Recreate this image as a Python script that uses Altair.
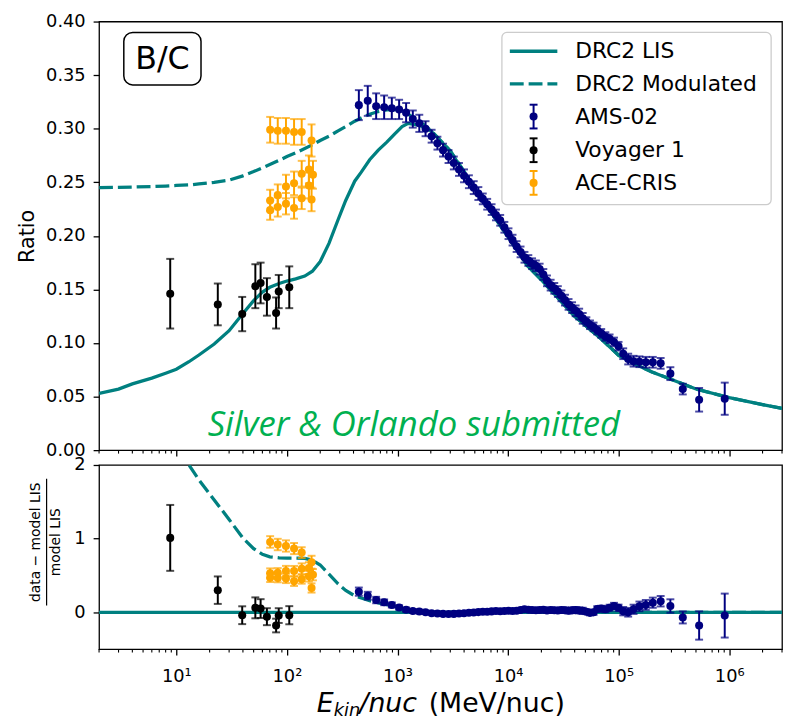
import altair as alt
import pandas as pd

# ---------------- data ----------------
model_E = [2, 3, 4, 6, 8, 10, 13, 16, 22, 30, 40, 50, 60, 70, 85, 100, 120, 145, 170, 200,
           240, 290, 340, 410, 470, 560, 670, 800, 940, 1100, 1250, 1600, 2000, 3000, 5000,
           7000, 10000, 15000, 20000, 30000, 40000, 70000, 100000, 150000, 200000, 300000,
           500000, 1000000, 2000000, 3000000]
lis_ratio = [0.053, 0.057, 0.0618, 0.0672, 0.0718, 0.0755, 0.0825, 0.0888, 0.0990, 0.1115,
             0.1275, 0.1395, 0.1475, 0.1520, 0.1555, 0.1578, 0.1598, 0.1625, 0.1670, 0.1760,
             0.1930, 0.2150, 0.2330, 0.2510, 0.2595, 0.2710, 0.2800, 0.2875, 0.2950, 0.3020,
             0.3050, 0.3030, 0.2980, 0.2790, 0.2445, 0.2220, 0.1990, 0.1720, 0.1590, 0.1390,
             0.1250, 0.1035, 0.0885, 0.0790, 0.0730, 0.0660, 0.0570, 0.0490, 0.0425, 0.0390]
mod_ratio = [0.2450, 0.2452, 0.2455, 0.2460, 0.2465, 0.2470, 0.2475, 0.2485, 0.2500, 0.2520,
             0.2560, 0.2600, 0.2635, 0.2665, 0.2705, 0.2740, 0.2775, 0.2815, 0.2850, 0.2890,
             0.2930, 0.2980, 0.3020, 0.3070, 0.3100, 0.3135, 0.3160, 0.3175, 0.3180, 0.3165,
             0.3135, 0.3065, 0.2985, 0.2795, 0.2450, 0.2223, 0.1992, 0.1721, 0.1590, 0.1390,
             0.1250, 0.1035, 0.0885, 0.0790, 0.0730, 0.0660, 0.0570, 0.0490, 0.0425, 0.0390]

ams_E = [447, 538, 641, 757, 888, 1034, 1196, 1375, 1574, 1793, 2034, 2296, 2581, 2893, 3231,
         3597, 3994, 4421, 4888, 5383, 5903, 6472, 7091, 7762, 8482, 9252, 10080, 10970, 11940,
         12960, 14060, 15240, 16480, 17830, 19280, 20830, 22470, 24250, 26150, 28170, 30340,
         32690, 35210, 37900, 40800, 43930, 47300, 51040, 55050, 59290, 64030, 69520, 75770,
         82750, 90730, 99700, 109900, 121900, 136300, 154000, 175900, 203500, 239700, 293400,
         380000, 534000, 910000]
ams_ratio = [0.322, 0.326, 0.321, 0.320, 0.319, 0.318, 0.315, 0.309, 0.305, 0.300, 0.293,
             0.2865, 0.280, 0.274, 0.268, 0.262, 0.256, 0.2505, 0.245, 0.2395, 0.2345, 0.2295,
             0.2245, 0.2195, 0.2145, 0.208, 0.202, 0.196, 0.190, 0.185, 0.180, 0.177, 0.174,
             0.172, 0.169, 0.164, 0.158, 0.154, 0.151, 0.148, 0.144, 0.140, 0.136, 0.133, 0.130,
             0.127, 0.123, 0.120, 0.117, 0.115, 0.112, 0.109, 0.106, 0.104, 0.101, 0.097, 0.090,
             0.085, 0.083, 0.0825, 0.082, 0.082, 0.081, 0.0714, 0.057, 0.047, 0.048]
ams_err = [0.014, 0.014, 0.012, 0.011, 0.010, 0.009, 0.009, 0.008, 0.008, 0.007, 0.006, 0.006,
           0.006, 0.006, 0.006, 0.006, 0.006, 0.006, 0.006, 0.006, 0.005, 0.005, 0.005, 0.005,
           0.005, 0.005, 0.005, 0.005, 0.005, 0.005, 0.005, 0.005, 0.005, 0.005, 0.005, 0.005,
           0.005, 0.005, 0.005, 0.005, 0.005, 0.005, 0.005, 0.005, 0.005, 0.005, 0.005, 0.004,
           0.004, 0.004, 0.004, 0.004, 0.004, 0.004, 0.004, 0.004, 0.005, 0.005, 0.005, 0.005,
           0.005, 0.005, 0.005, 0.006, 0.005, 0.011, 0.015]
ams_resid = [0.28, 0.225, 0.166, 0.135, 0.099, 0.065, 0.035, 0.018, 0.009, 0.0, -0.012, -0.018,
             -0.022, -0.024, -0.022, -0.018, -0.012, -0.006, -0.002, 0.002, 0.006, 0.008, 0.012,
             0.016, 0.015, 0.018, 0.02, 0.018, 0.022, 0.03, 0.04, 0.035, 0.03, 0.028, 0.03,
             0.035, 0.025, 0.03, 0.028, 0.024, 0.03, 0.028, 0.022, 0.026, 0.03, 0.025, 0.02,
             0.008, -0.008, 0.0, 0.045, 0.05, 0.04, 0.06, 0.085, 0.06, 0.015, 0.0, 0.04, 0.08,
             0.10, 0.13, 0.15, 0.085, -0.07, -0.18, -0.045]

voy_E = [8.8, 23.7, 39.4, 51.8, 57.8, 65.9, 79.8, 84.3, 105]
voy_ratio = [0.146, 0.136, 0.127, 0.153, 0.156, 0.143, 0.128, 0.148, 0.152]
voy_err = [0.0325, 0.0195, 0.016, 0.0205, 0.019, 0.0175, 0.0145, 0.0155, 0.0195]
voy_resid = [1.01, 0.30, -0.04, 0.06, 0.05, -0.06, -0.18, -0.045, -0.04]

ace_E = [70.5, 82.6, 98, 116, 136, 167, 70.5, 70.5, 82.6, 82.6, 98, 98, 116, 116, 136, 136,
         158, 158, 167, 172]
ace_ratio = [0.299, 0.298, 0.298, 0.297, 0.297, 0.289, 0.233, 0.224, 0.238, 0.227, 0.246,
             0.230, 0.249, 0.226, 0.258, 0.235, 0.262, 0.247, 0.234, 0.257]
ace_err = [0.012, 0.012, 0.012, 0.012, 0.012, 0.015, 0.010, 0.009, 0.010, 0.009, 0.011, 0.010,
           0.011, 0.010, 0.012, 0.010, 0.013, 0.012, 0.011, 0.013]
ace_resid = [0.955, 0.92, 0.90, 0.865, 0.81, 0.68, 0.53, 0.47, 0.535, 0.465, 0.56, 0.46, 0.56,
             0.42, 0.59, 0.45, 0.60, 0.49, 0.33, 0.51]

x_major = [10, 100, 1000, 10000, 100000, 1000000]
x_major_labels = ["10¹", "10²", "10³", "10⁴", "10⁵", "10⁶"]
x_minor = [m * 10 ** k for k in range(0, 7) for m in range(2, 10) if 2 <= m * 10 ** k <= 3e6]
top_y_ticks = [0.0, 0.05, 0.10, 0.15, 0.20, 0.25, 0.30, 0.35, 0.40]
bot_y_ticks = [0, 1, 2]
legend_labels = ["DRC2 LIS", "DRC2 Modulated", "AMS-02", "Voyager 1", "ACE-CRIS"]

# ---------------- style ----------------
TEAL = "#008080"
NAVY = "#000080"
ORANGE = "#FFA500"
GREEN = "#00B050"
FONT = "DejaVu Sans"
W, H1, H2 = 690, 433, 186
DASH = [14, 5]
LW = 3.3

xscale = alt.Scale(type="log", domain=[2, 3e6], nice=False)
yscale_top = alt.Scale(domain=[0, 0.4], nice=False, zero=False)
yscale_bot = alt.Scale(domain=[-0.5, 2], nice=False, zero=False)

label_expr = "".join(f"datum.value == {v} ? '{l}' : " for v, l in zip(x_major, x_major_labels)) + "''"

common_axis = dict(tickSize=6, tickWidth=1.3, tickColor="black", domain=False, grid=False,
                   labelFont=FONT, labelFontSize=18, labelColor="black")
x_axis_top = alt.Axis(values=x_major, labels=False, title=None, **common_axis)
x_axis_bot = alt.Axis(values=x_major, labelExpr=label_expr, labelPadding=13, title=None,
                      **common_axis)
y_axis_top = alt.Axis(values=top_y_ticks, format=".2f", labelPadding=8, title="Ratio",
                      titleFontSize=21, titleFont=FONT, titleFontWeight="normal",
                      titlePadding=8, titleColor="black", **common_axis)
y_axis_bot = alt.Axis(values=bot_y_ticks, format="d", labelPadding=8, title=None, **common_axis)

# ---------------- frames ----------------
model_df = pd.DataFrame({"E": model_E, "lis": lis_ratio, "mod": mod_ratio})
model_df["lis_res"] = (model_df["lis"] - model_df["lis"]) / model_df["lis"]
model_df["mod_res"] = (model_df["mod"] - model_df["lis"]) / model_df["lis"]


def make_df(E, ratio, err, resid):
    d = pd.DataFrame({"E": E, "ratio": ratio, "err": err, "res": resid})
    d["lo"] = d["ratio"] - d["err"]
    d["hi"] = d["ratio"] + d["err"]
    d["res_err"] = d["err"] * (1 + d["res"]) / d["ratio"]
    d["rlo"] = d["res"] - d["res_err"]
    d["rhi"] = d["res"] + d["res_err"]
    return d


ams_df = make_df(ams_E, ams_ratio, ams_err, ams_resid)
voy_df = make_df(voy_E, voy_ratio, voy_err, voy_resid)
ace_df = make_df(ace_E, ace_ratio, ace_err, ace_resid)
one = pd.DataFrame({"k": [0]})


def panel_layers(xaxis, yaxis, yscale, ycols, lis_col, mod_col, height):
    """All data layers of one panel; every layer carries the same axis spec."""
    def X(field="E"):
        return alt.X(f"{field}:Q", scale=xscale, axis=xaxis)

    def Y(field):
        return alt.Y(f"{field}:Q", scale=yscale, axis=yaxis)

    layers = [
        alt.Chart(model_df).mark_line(color=TEAL, strokeWidth=LW, clip=True).encode(
            x=X(), y=Y(lis_col)),
        alt.Chart(model_df).mark_line(color=TEAL, strokeWidth=LW, strokeDash=DASH,
                                      clip=True).encode(x=X(), y=Y(mod_col)),
    ]
    ycol, lo, hi = ycols
    for df, color in [(ams_df, NAVY), (voy_df, "black"), (ace_df, ORANGE)]:
        base = alt.Chart(df)
        layers.append(base.mark_rule(color=color, strokeWidth=2).encode(
            x=X(), y=Y(lo), y2=f"{hi}:Q"))
        for c in (lo, hi):
            layers.append(base.mark_tick(color=color, orient="horizontal", size=8,
                                         thickness=2).encode(x=X(), y=Y(c)))
        layers.append(base.mark_circle(color=color, size=66, opacity=1).encode(
            x=X(), y=Y(ycol)))
    # minor ticks
    layers.append(alt.Chart(pd.DataFrame({"E": x_minor})).mark_rule(
        color="black", strokeWidth=1.1).encode(
        x=X(), y=alt.value(height), y2=alt.value(height + 3.5)))
    return layers


# ---------------- top panel ----------------
top_layers = panel_layers(x_axis_top, y_axis_top, yscale_top, ("ratio", "lo", "hi"),
                          "lis", "mod", H1)

# annotation: B/C box
top_layers.append(alt.Chart(one).mark_rect(fill="white", stroke="black", strokeWidth=1.5,
                                           cornerRadius=9).encode(
    x=alt.value(25), x2=alt.value(103), y=alt.value(11), y2=alt.value(64)))
top_layers.append(alt.Chart(one).mark_text(text="B/C", font=FONT, fontSize=32, color="black",
                                           align="center", baseline="middle").encode(
    x=alt.value(64), y=alt.value(38)))
# annotation: green text
top_layers.append(alt.Chart(one).mark_text(text="Silver & Orlando submitted", font="Open Sans",
                                           fontStyle="italic", fontSize=35, color=GREEN,
                                           align="center", baseline="middle").encode(
    x=alt.value(318), y=alt.value(408)))

# legend
top_layers.append(alt.Chart(one).mark_rect(fill="white", fillOpacity=0.85, stroke="#cccccc",
                                           strokeWidth=1.3, cornerRadius=5).encode(
    x=alt.value(407), x2=alt.value(679), y=alt.value(11), y2=alt.value(185)))
rows = [30, 63, 96, 130, 163]
top_layers.append(alt.Chart(one).mark_rule(color=TEAL, strokeWidth=LW).encode(
    x=alt.value(415), x2=alt.value(463), y=alt.value(rows[0])))
top_layers.append(alt.Chart(one).mark_rule(color=TEAL, strokeWidth=LW, strokeDash=DASH).encode(
    x=alt.value(415), x2=alt.value(463), y=alt.value(rows[1])))
for r, c in zip(rows[2:], [NAVY, "black", ORANGE]):
    top_layers.append(alt.Chart(one).mark_rule(color=c, strokeWidth=2).encode(
        x=alt.value(439), y=alt.value(r - 12), y2=alt.value(r + 12)))
    for dy in (-12, 12):
        top_layers.append(alt.Chart(one).mark_rule(color=c, strokeWidth=2).encode(
            x=alt.value(435), x2=alt.value(443), y=alt.value(r + dy)))
    top_layers.append(alt.Chart(one).mark_circle(color=c, size=66, opacity=1).encode(
        x=alt.value(439), y=alt.value(r)))
for r, lab in zip(rows, legend_labels):
    top_layers.append(alt.Chart(one).mark_text(text=lab, font=FONT, fontSize=22, color="black",
                                               align="left", baseline="middle").encode(
        x=alt.value(481), y=alt.value(r)))

top = alt.layer(*top_layers).properties(width=W, height=H1)

# ---------------- bottom panel ----------------
bot_layers = panel_layers(x_axis_bot, y_axis_bot, yscale_bot, ("res", "rlo", "rhi"),
                          "lis_res", "mod_res", H2)

# y title as a fraction
bot_layers.append(alt.Chart(one).mark_text(text="data − model LIS", font=FONT, fontSize=14,
                                           angle=270, color="black", align="center",
                                           baseline="middle").encode(
    x=alt.value(-64), y=alt.value(78)))
bot_layers.append(alt.Chart(one).mark_rule(color="black", strokeWidth=1.2).encode(
    x=alt.value(-53), y=alt.value(14), y2=alt.value(142)))
bot_layers.append(alt.Chart(one).mark_text(text="model LIS", font=FONT, fontSize=14,
                                           angle=270, color="black", align="center",
                                           baseline="middle").encode(
    x=alt.value(-43), y=alt.value(78)))

# x title pieces
for txt, xx, yy, fs, sty in [("E", 220, 250, 27, "italic"), ("kin", 237, 254, 18, "italic"),
                             ("/nuc", 263, 250, 27, "italic"), ("(MeV/nuc)", 333, 250, 27, "normal")]:
    bot_layers.append(alt.Chart(one).mark_text(text=txt, font=FONT, fontSize=fs, fontStyle=sty,
                                               color="black", align="left",
                                               baseline="alphabetic").encode(
        x=alt.value(xx), y=alt.value(yy)))

bottom = alt.layer(*bot_layers).properties(width=W, height=H2)

chart = alt.vconcat(top, bottom, spacing=15, bounds="flush").properties(
    padding={"left": 8, "top": 0, "right": 0, "bottom": 0},
    background="white",
).configure_view(stroke="black", strokeWidth=1.3)

chart.save("out.html", embed_options={"renderer": "svg", "actions": False})
